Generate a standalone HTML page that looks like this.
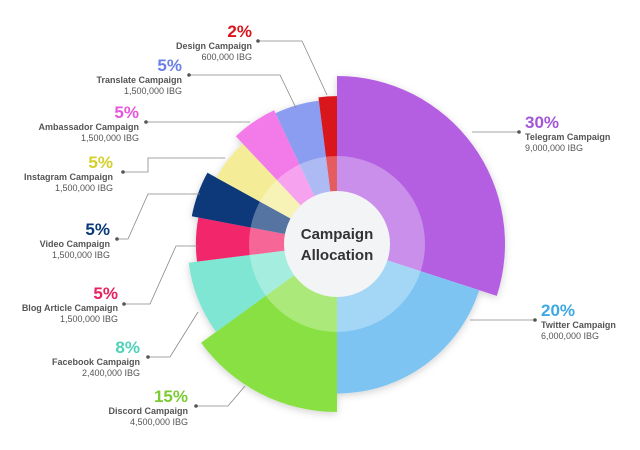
<!DOCTYPE html>
<html><head><meta charset="utf-8">
<style>
html,body{margin:0;padding:0;background:#fff;}
svg{display:block;font-family:"Liberation Sans",sans-serif;}
</style></head>
<body>
<svg id="chart" width="640" height="450" viewBox="0 0 640 450" xmlns="http://www.w3.org/2000/svg">
<defs>
<filter id="sh" x="-20%" y="-20%" width="140%" height="140%"><feDropShadow dx="0" dy="2" stdDeviation="4" flood-color="#000" flood-opacity="0.18"/></filter>
</defs>
<g id="slices" filter="url(#sh)"></g>
<g id="labels"></g>
</svg>
<script>
const categories = ["Telegram Campaign","Twitter Campaign","Discord Campaign","Facebook Campaign","Blog Article Campaign","Video Campaign","Instagram Campaign","Ambassador Campaign","Translate Campaign","Design Campaign"];
const percents = [30,20,15,8,5,5,5,5,5,2];
const amounts = ["9,000,000 IBG","6,000,000 IBG","4,500,000 IBG","2,400,000 IBG","1,500,000 IBG","1,500,000 IBG","1,500,000 IBG","1,500,000 IBG","1,500,000 IBG","600,000 IBG"];
const radiusLevel = [100,89,100,89,84,88,82,88,86,88];
const colors = ["#b45fe2","#7dc4f2","#88e043","#7ee6d2","#f2276b","#07377a","#f4ec96","#f27ae9","#8b9df0","#d8151c"];
const pctColors = ["#a356d6","#3ea8e4","#7bcb33","#4fd3b8","#e8215f","#0b3a78","#d5cf2b","#e556d9","#6b80e6","#d8151c"];

const NS="http://www.w3.org/2000/svg";
const cx=337, cy=244, rMax=168, rInner=53, rRing=88;
const total = percents.reduce((a,b)=>a+b,0);
function angleScale(v){return v/total*Math.PI*2;}
function radiusScale(l){return l/100*rMax;}
function pt(a,r){return [cx+r*Math.sin(a), cy-r*Math.cos(a)];}
function mk(tag,attrs,parent){const e=document.createElementNS(NS,tag);for(const k in attrs)e.setAttribute(k,attrs[k]);parent.appendChild(e);return e;}

const gS=document.getElementById('slices');
let acc=0;
const mids=[];
percents.forEach((p,i)=>{
  const a0=angleScale(acc), a1=angleScale(acc+p); acc+=p;
  const r=radiusScale(radiusLevel[i]);
  const [x0,y0]=pt(a0,r),[x1,y1]=pt(a1,r);
  const large=(a1-a0)>Math.PI?1:0;
  const path=mk('path',{d:`M${cx},${cy} L${x0},${y0} A${r},${r} 0 ${large} 1 ${x1},${y1} Z`,fill:colors[i]},gS);
  
  
  mids.push({a:(a0+a1)/2,r:r});
});
const ring=mk('circle',{cx:cx,cy:cy,r:rRing,fill:'#ffffff','fill-opacity':0.3},document.getElementById('chart'));


const hole=mk('circle',{cx:cx,cy:cy,r:rInner,fill:'#f3f4f6'},document.getElementById('chart'));


const t1=mk('text',{x:cx,y:cy-5,'text-anchor':'middle','font-size':15,'font-weight':'bold',fill:'#333'},document.getElementById('chart'));
t1.textContent='Campaign';


const t2=mk('text',{x:cx,y:cy+16,'text-anchor':'middle','font-size':15,'font-weight':'bold',fill:'#333'},document.getElementById('chart'));
t2.textContent='Allocation';



// label layout: [anchor x, name y, side, leader polyline]
const labelLayout=[
 {x:525,y:137,side:'l',line:[[472,132],[519,132]]},
 {x:541,y:325,side:'l',line:[[470,320],[535,320]]},
 {x:188,y:411,side:'r',line:[[196,406],[228,406],[245,386]]},
 {x:140,y:362,side:'r',line:[[148,357],[170,357],[198,312]]},
 {x:118,y:308,side:'r',line:[[124,304],[150,304],[176,246],[198,246]]},
 {x:110,y:244,side:'r',line:[[117,239],[128,239],[148,194],[200,194]]},
 {x:113,y:177,side:'r',line:[[123,172],[148,172],[148,158],[225,158]]},
 {x:139,y:127,side:'r',line:[[146,122],[250,122]]},
 {x:182,y:80,side:'r',line:[[189,75],[280,75],[296,108]]},
 {x:252,y:46,side:'r',line:[[258,41],[302,41],[327,95]]}
];
const gL=document.getElementById('labels');
categories.forEach((c,i)=>{
  const L=labelLayout[i];
  const anchor=L.side==='r'?'end':'start';
  const g=mk('g',{},gL);
  
  
  const pl=mk('polyline',{points:L.line.map(p=>p.join(',')).join(' '),fill:'none',stroke:'#888','stroke-width':0.8},g);
  
  
  const dotP=L.side==='r'?L.line[0]:L.line[L.line.length-1];
  const d=mk('circle',{cx:dotP[0],cy:dotP[1],r:1.8,fill:'#555'},g);
  
  
  const tp=mk('text',{x:L.x,y:L.y-9,'text-anchor':anchor,'font-size':17,'font-weight':'bold',fill:pctColors[i]},g);
  tp.textContent=percents[i]+'%';
  
  
  const tn=mk('text',{x:L.x,y:L.y+3,'text-anchor':anchor,'font-size':9,'font-weight':'bold',fill:'#555'},g);
  tn.textContent=c;
  
  
  const tv=mk('text',{x:L.x,y:L.y+14,'text-anchor':anchor,'font-size':9,fill:'#555'},g);
  tv.textContent=amounts[i];
  
  
});
</script>
</body></html>
